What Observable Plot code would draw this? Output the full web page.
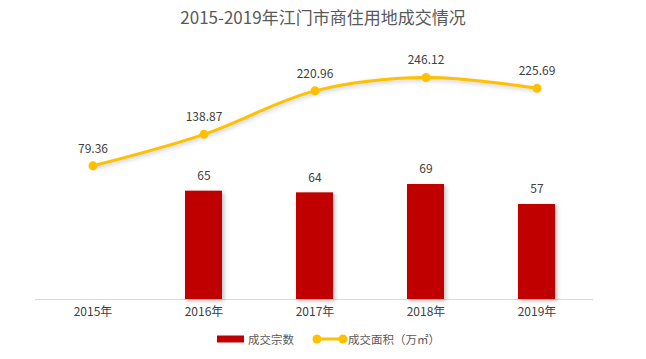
<!DOCTYPE html>
<html>
<head>
<meta charset="utf-8">
<script src="https://cdn.jsdelivr.net/npm/d3@7"></script>
<script src="https://cdn.jsdelivr.net/npm/@observablehq/plot@0.6"></script>
<style>
  body { margin: 0; background: #fff; }
  #wrap { position: relative; width: 646px; height: 359px; font-family: "Noto Sans CJK SC", "Noto Sans", sans-serif; }
  #title { position: absolute; left: 0; width: 646px; top: 5px; text-align: center; font-size: 17px; color: #595959; line-height: 24px; }
  #legend { position: absolute; top: 330px; left: 217px; display: flex; align-items: center; font-size: 11.5px; color: #595959; line-height: 18px; }
  #legend .item { display: flex; align-items: center; }
  svg { font-family: "Noto Sans CJK SC", "Noto Sans", sans-serif; }
</style>
</head>
<body>
<div id="wrap">
  <div id="title"></div>
  <div id="legend"></div>
</div>
<script>
const title = "2015-2019年江门市商住用地成交情况";
const years = ["2015年", "2016年", "2017年", "2018年", "2019年"];
const dealCount = [null, 65, 64, 69, 57];          // 成交宗数
const dealArea = [79.36, 138.87, 220.96, 246.12, 225.69]; // 成交面积（万㎡）
const seriesNames = ["成交宗数", "成交面积（万㎡）"];
const barColor = "#C00000";
const lineColor = "#FFC000";

// secondary (hidden) axis for area, mapped onto the count axis
const yMax = 155.4;
const areaAxis = d3.scaleLinear().domain([-173.2, 316.1]).range([0, yMax]);

const bars = years.map((y, i) => ({year: y, v: dealCount[i]})).filter(d => d.v != null);
const pts = years.map((y, i) => ({year: y, v: dealArea[i], u: areaAxis(dealArea[i])}));

document.getElementById("title").textContent = title;

const chart = Plot.plot({
  width: 646,
  height: 359,
  marginTop: 40,
  marginBottom: 60,
  marginLeft: 35,
  marginRight: 53,
  x: {domain: years, paddingInner: 0.67, paddingOuter: 0.335, align: 0.5},
  y: {domain: [0, yMax], axis: null},
  marks: [
    Plot.ruleY([0], {stroke: "#d9d9d9", strokeWidth: 1}),
    Plot.barY(bars, {x: "year", y: "v", fill: barColor}),
    Plot.text(bars, {x: "year", y: "v", text: d => String(d.v), dy: -15, fontSize: 12, fill: "#404040"}),
    Plot.line(pts, {x: "year", y: "u", stroke: lineColor, strokeWidth: 3, curve: "catmull-rom"}),
    Plot.dot(pts, {x: "year", y: "u", r: 4.5, fill: lineColor, stroke: "none"}),
    Plot.text(pts, {x: "year", y: "u", text: d => d.v.toFixed(2), dy: -17, fontSize: 12, fill: "#404040"}),
    Plot.axisX({tickSize: 0, tickPadding: 8, fontSize: 12, color: "#404040", label: null})
  ]
});
chart.style.position = "absolute";
chart.style.left = "0";
chart.style.top = "0";
const wrap = document.getElementById("wrap");
wrap.insertBefore(chart, wrap.firstChild);

const barG = chart.querySelector('g[aria-label="bar"]');
if (barG) barG.style.filter = "drop-shadow(2px 2px 2px rgba(0,0,0,0.25))";
const lineG = chart.querySelector('g[aria-label="line"]');
if (lineG) lineG.style.filter = "drop-shadow(1px 2px 2px rgba(0,0,0,0.2))";

// legend
const legend = document.getElementById("legend");
legend.innerHTML =
  `<span class="item"><svg width="27" height="8" style="margin-right:4px"><rect width="27" height="7" y="0.5" fill="${barColor}"/></svg>${seriesNames[0]}</span>` +
  `<span class="item" style="margin-left:18px"><svg width="36" height="12"><line x1="5" x2="31" y1="6" y2="6" stroke="${lineColor}" stroke-width="3"/><circle cx="5" cy="6" r="4.5" fill="${lineColor}"/><circle cx="31" cy="6" r="4.5" fill="${lineColor}"/></svg>${seriesNames[1]}</span>`;
</script>
</body>
</html>
